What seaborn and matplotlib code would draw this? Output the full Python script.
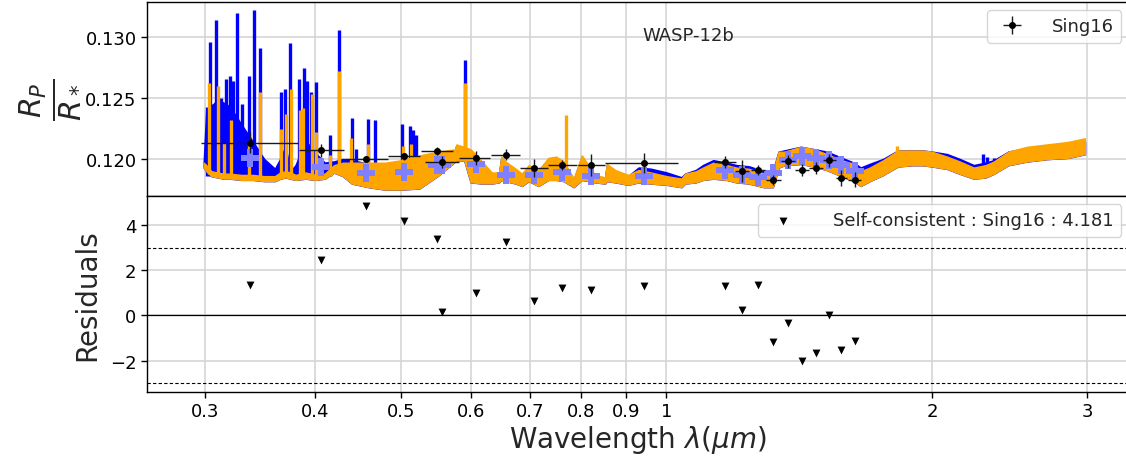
import numpy as np
import matplotlib
matplotlib.use("Agg")
import matplotlib.pyplot as plt
from matplotlib.ticker import NullLocator, FixedLocator, FixedFormatter
import seaborn as sns

# ---------------- data ----------------
# Sing16 observed transit depths
sing_wl = [0.337, 0.406, 0.457, 0.504, 0.550, 0.557, 0.608, 0.658, 0.707, 0.762, 0.822,
           0.944, 1.166, 1.218, 1.269, 1.322, 1.372, 1.424, 1.477, 1.530, 1.578, 1.634]
sing_wl_lo = [0.297, 0.383, 0.432, 0.483, 0.527, 0.533, 0.582, 0.633, 0.682, 0.734, 0.793,
              0.853, 1.133, 1.195, 1.247, 1.297, 1.347, 1.400, 1.452, 1.505, 1.555, 1.608]
sing_wl_hi = [0.382, 0.431, 0.483, 0.526, 0.573, 0.582, 0.631, 0.682, 0.734, 0.791, 0.851,
              1.032, 1.200, 1.242, 1.293, 1.347, 1.397, 1.450, 1.503, 1.555, 1.603, 1.660]
sing_rp = [0.12134, 0.12071, 0.12000, 0.12021, 0.12066, 0.11975, 0.12008, 0.12035, 0.11926,
           0.11951, 0.11948, 0.11967, 0.11975, 0.11902, 0.11912, 0.11830, 0.11980, 0.11912,
           0.11926, 0.11989, 0.11847, 0.11830]
sing_err = [0.00085, 0.00055, 0.00022, 0.00030, 0.00035, 0.00048, 0.00055, 0.00045, 0.00075,
            0.00040, 0.00090, 0.00085, 0.00048, 0.00090, 0.00040, 0.00040, 0.00057, 0.00050,
            0.00050, 0.00055, 0.00064, 0.00063]
# binned model
binned_model = [0.12011, 0.11934, 0.11885, 0.11893, 0.11948, 0.11950, 0.11961, 0.11871, 0.11871,
                0.11893, 0.11861, 0.11858, 0.11907, 0.11871, 0.11852, 0.11888, 0.11989, 0.12025,
                0.12008, 0.11989, 0.11948, 0.11898]
# residuals
residuals = [1.33, 2.45, 4.83, 4.18, 3.39, 0.16, 0.97, 3.25, 0.65, 1.21, 1.12, 1.31, 1.31, 0.22,
             1.33, -1.17, -0.35, -2.00, -1.65, 0.01, -1.55, -1.12]

# model spectra (continuum envelopes)
spec_wl = [0.299, 0.301, 0.305, 0.310, 0.315, 0.320, 0.330, 0.340, 0.350, 0.360, 0.365, 0.370,
           0.375, 0.380, 0.390, 0.400, 0.410, 0.420, 0.430, 0.440, 0.460, 0.480, 0.500, 0.525,
           0.550, 0.576, 0.578, 0.590, 0.600, 0.618, 0.634, 0.646, 0.650, 0.657, 0.675, 0.686,
           0.698, 0.716, 0.735, 0.750, 0.765, 0.785, 0.802, 0.830, 0.852, 0.856, 0.875, 0.905,
           0.930, 0.960, 1.000, 1.040, 1.050, 1.080, 1.100, 1.130, 1.170, 1.200, 1.240, 1.290,
           1.320, 1.340, 1.360, 1.420, 1.470, 1.520, 1.580, 1.630, 1.660, 1.700, 1.760, 1.830,
           1.900, 1.950, 2.000, 2.080, 2.150, 2.230, 2.300, 2.350, 2.440, 2.560, 2.700, 2.850,
           2.980]
orange_lo = [0.1193, 0.1190, 0.1186, 0.1185, 0.1184, 0.1184, 0.1183, 0.1183, 0.1182, 0.1182,
             0.1184, 0.1185, 0.1184, 0.1183, 0.1184, 0.1183, 0.1184, 0.1189, 0.1186, 0.1180,
             0.1177, 0.1175, 0.1175, 0.1176, 0.1186, 0.1198, 0.1199, 0.1199, 0.1181, 0.1180,
             0.1180, 0.1181, 0.1183, 0.1182, 0.1180, 0.1178, 0.1182, 0.1178, 0.1183, 0.1183,
             0.1182, 0.1177, 0.1183, 0.1181, 0.1180, 0.1182, 0.1181, 0.1179, 0.1181, 0.1180,
             0.1179, 0.1177, 0.1180, 0.1181, 0.1183, 0.1184, 0.1183, 0.1181, 0.1180, 0.1177,
             0.1177, 0.1193, 0.1195, 0.1196, 0.1194, 0.1191, 0.1186, 0.1182, 0.1178, 0.1182,
             0.1187, 0.1194, 0.1195, 0.1195, 0.1194, 0.1192, 0.1188, 0.1184, 0.1185, 0.1188,
             0.1195, 0.1198, 0.1200, 0.1201, 0.1204]
orange_hi = [0.1197, 0.1195, 0.1190, 0.1189, 0.1188, 0.1188, 0.1187, 0.1187, 0.1186, 0.1186,
             0.1189, 0.1190, 0.1189, 0.1187, 0.1189, 0.1187, 0.1188, 0.1195, 0.1197, 0.1197,
             0.1197, 0.1197, 0.1199, 0.1203, 0.1206, 0.1208, 0.1212, 0.1210, 0.1208, 0.1198,
             0.1189, 0.1189, 0.1202, 0.1198, 0.1192, 0.1188, 0.1195, 0.1191, 0.1201, 0.1202,
             0.1198, 0.1184, 0.1203, 0.1187, 0.1185, 0.1196, 0.1191, 0.1187, 0.1191, 0.1189,
             0.1186, 0.1184, 0.1188, 0.1190, 0.1193, 0.1197, 0.1195, 0.1193, 0.1192, 0.1188,
             0.1189, 0.1206, 0.1206, 0.1210, 0.1208, 0.1204, 0.1199, 0.1196, 0.1190, 0.1193,
             0.1199, 0.1207, 0.1207, 0.1207, 0.1206, 0.1202, 0.1198, 0.1193, 0.1195, 0.1198,
             0.1206, 0.1210, 0.1212, 0.1214, 0.1217]
blue_hi = [0.1197, 0.1240, 0.1243, 0.1249, 0.1246, 0.1243, 0.1228, 0.1214, 0.1200, 0.1192,
           0.1200, 0.1210, 0.1190, 0.1195, 0.1215, 0.1205, 0.1197, 0.1198, 0.1200, 0.1199,
           0.1196, 0.1196, 0.1198, 0.1202, 0.1205, 0.1207, 0.1211, 0.1209, 0.1207, 0.1197,
           0.1188, 0.1188, 0.1201, 0.1197, 0.1191, 0.1187, 0.1194, 0.1190, 0.1200, 0.1201,
           0.1197, 0.1183, 0.1202, 0.1186, 0.1184, 0.1195, 0.1190, 0.1186, 0.1193, 0.1192,
           0.1189, 0.1185, 0.1188, 0.1191, 0.1195, 0.1199, 0.1197, 0.1195, 0.1194, 0.1190,
           0.1190, 0.1206, 0.1207, 0.1210, 0.1208, 0.1206, 0.1201, 0.1197, 0.1193, 0.1196,
           0.1200, 0.1207, 0.1207, 0.1207, 0.1206, 0.1204, 0.1200, 0.1195, 0.1197, 0.1199,
           0.1206, 0.1209, 0.1211, 0.1212, 0.1214]

# narrow absorption lines (wavelength, base, top)
orange_line_wl = [0.3035, 0.3105, 0.3150, 0.3212, 0.3366, 0.3462, 0.3660, 0.3704, 0.3750,
                  0.3842, 0.3878, 0.3965, 0.4012, 0.4160, 0.4250, 0.4395, 0.4590, 0.5035,
                  0.5140, 0.5917, 0.7690, 1.8260]
orange_line_base = [0.1188, 0.1187, 0.1186, 0.1186, 0.1185, 0.1185, 0.1186, 0.1186, 0.1186,
                    0.1186, 0.1186, 0.1186, 0.1186, 0.1186, 0.1190, 0.1190, 0.1190, 0.1195,
                    0.1195, 0.1205, 0.1195, 0.1205]
orange_line_top = [0.1262, 0.1260, 0.1213, 0.1232, 0.1215, 0.1255, 0.1225, 0.1237, 0.1257,
                   0.1240, 0.1242, 0.1253, 0.1222, 0.1203, 0.1272, 0.1217, 0.1212, 0.1211,
                   0.1212, 0.1262, 0.1236, 0.1211]
blue_line_wl = [0.3016, 0.3040, 0.3062, 0.3090, 0.3130, 0.3169, 0.3200, 0.3229, 0.3258, 0.3300,
                0.3363, 0.3406, 0.3465, 0.3657, 0.3698, 0.3740, 0.3835, 0.3879, 0.3919, 0.3960,
                0.4010, 0.4160, 0.4252, 0.4398, 0.4450, 0.4592, 0.4680, 0.5020, 0.5120, 0.5160,
                0.5200, 0.5917, 2.285, 2.310, 2.350]
blue_line_base = [0.1186] * 22 + [0.1190, 0.1190, 0.1190, 0.1190, 0.1190, 0.1195, 0.1195,
                                  0.1195, 0.1195, 0.1205, 0.1195, 0.1195, 0.1195]
blue_line_top = [0.1243, 0.1296, 0.1245, 0.1314, 0.1250, 0.1266, 0.1268, 0.1264, 0.1320, 0.1245,
                 0.1268, 0.1322, 0.1291, 0.1255, 0.1257, 0.1295, 0.1266, 0.1275, 0.1264, 0.1255,
                 0.1263, 0.1220, 0.1306, 0.1234, 0.1208, 0.1233, 0.1232, 0.1229, 0.1227, 0.1224,
                 0.1220, 0.1281, 0.1204, 0.1202, 0.1201]

xtick_vals = [0.3, 0.4, 0.5, 0.6, 0.7, 0.8, 0.9, 1, 2, 3]
xtick_labels = ["0.3", "0.4", "0.5", "0.6", "0.7", "0.8", "0.9", "1", "2", "3"]

# ---------------- figure ----------------
sns.set_style("ticks")
plt.rcParams["font.family"] = ["DejaVu Sans"]
plt.rcParams["mathtext.fontset"] = "dejavusans"

fig = plt.figure(figsize=(11.26, 4.64), dpi=100)
L, R = 0.1305, 1.003
ax1 = fig.add_axes([L, 0.5754, R - L, 0.9935 - 0.5754])
ax2 = fig.add_axes([L, 0.1530, R - L, 0.5754 - 0.1530], sharex=ax1)

ORANGE = "#ffa500"
BLUE = "#0000ff"
BIN = "#8080ff"

# blue model
ax1.fill_between(spec_wl, orange_lo, blue_hi, color=BLUE, lw=1.2, zorder=2)
ax1.vlines(blue_line_wl, blue_line_base, blue_line_top, color=BLUE, lw=2.4, zorder=2)
# orange model
ax1.fill_between(spec_wl, orange_lo, orange_hi, color=ORANGE, lw=1.0, edgecolor=ORANGE, zorder=3)
ax1.vlines(orange_line_wl, orange_line_base, orange_line_top, color=ORANGE, lw=2.4, zorder=3)

# binned model
sns.scatterplot(x=sing_wl, y=binned_model, marker="P", s=150, color=BIN, edgecolor=BIN,
                linewidth=0, ax=ax1, zorder=4, legend=False)

# data
xerr = [np.array(sing_wl) - np.array(sing_wl_lo), np.array(sing_wl_hi) - np.array(sing_wl)]
ax1.errorbar(sing_wl, sing_rp, xerr=xerr, yerr=sing_err, fmt="o", color="k", ms=4,
             ecolor="#1a1a1a", elinewidth=1.0, capsize=0, zorder=5, label="Sing16")

ax1.text(0.551, 0.83, "WASP-12b", transform=ax1.transAxes, ha="center", va="center",
         fontsize=13)
ax1.legend(loc="upper right", fontsize=13, handletextpad=1.2, borderaxespad=0.45,
           framealpha=0.8)

ax1.set_ylim(0.11697, 0.13287)
ax1.set_yticks([0.120, 0.125, 0.130])
ax1.set_yticklabels(["0.120", "0.125", "0.130"])
ax1.set_ylabel(r"$\frac{R_P}{R_*}$", fontsize=31, labelpad=4)

# residuals
sns.scatterplot(x=sing_wl, y=residuals, marker="v", s=32, color="k", edgecolor="k",
                linewidth=0, ax=ax2, zorder=4, label="Self-consistent : Sing16 : 4.181")
ax2.axhline(0, color="k", lw=0.9, zorder=3)
ax2.axhline(3, color="k", lw=0.8, ls=(0, (3, 2)), zorder=3)
ax2.axhline(-3, color="k", lw=0.8, ls=(0, (3, 2)), zorder=3)
ax2.set_ylim(-3.39, 5.28)
ax2.set_yticks([-2, 0, 2, 4])
ax2.set_ylabel("Residuals", fontsize=20, labelpad=6)
ax2.set_xlabel(r"Wavelength $\lambda (\mu m)$", fontsize=20, labelpad=2)
ax2.legend(loc="upper right", fontsize=13, handletextpad=1.8, borderaxespad=0.45,
           framealpha=0.8)

ax2.set_xscale("log")
ax2.set_xlim(0.2578, 3.347)
for ax in (ax1, ax2):
    ax.xaxis.set_major_locator(FixedLocator(xtick_vals))
    ax.xaxis.set_major_formatter(FixedFormatter(xtick_labels))
    ax.xaxis.set_minor_locator(NullLocator())
    ax.grid(True, color="#d5d5d5", lw=1.2, zorder=0)
    ax.set_axisbelow(True)
    ax.tick_params(labelsize=13, length=4, width=1, color="k", labelcolor="k")
    for s in ax.spines.values():
        s.set_color("k")
        s.set_linewidth(1.0)
ax1.tick_params(axis="x", labelbottom=False, bottom=False)

fig.savefig("out.png", dpi=100)
